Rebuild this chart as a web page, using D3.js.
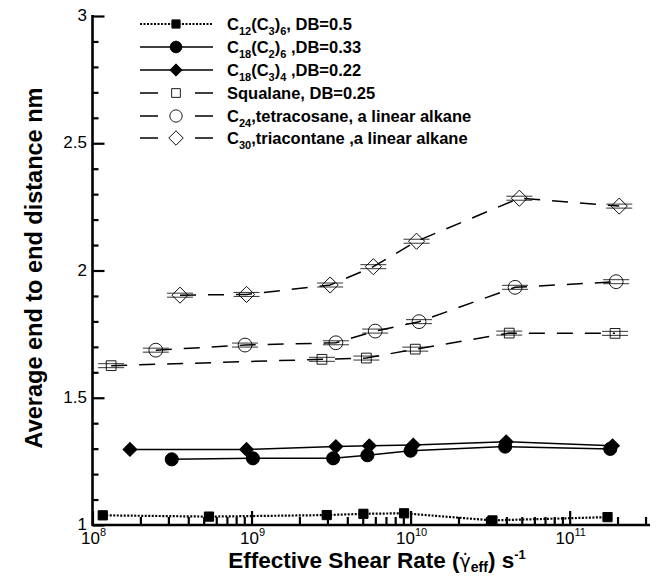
<!DOCTYPE html>
<html>
<head>
<meta charset="utf-8">
<script src="https://cdn.jsdelivr.net/npm/d3@7"></script>
<style>
  body { margin: 0; background: #fff; }
  svg { display: block; font-family: "Liberation Sans", Arial, sans-serif; }
</style>
</head>
<body>
<div id="chart"></div>
<script>
// data
var shearC12 = [1.16e8, 5.4e8, 2.97e9, 5.05e9, 9.1e9, 3.27e10, 1.73e11];
var distC12 = [1.038, 1.033, 1.039, 1.044, 1.046, 1.018, 1.031];

var shearC18a = [3.15e8, 1.02e9, 3.26e9, 5.35e9, 1.0e10, 3.93e10, 1.8e11];
var distC18a = [1.258, 1.262, 1.262, 1.274, 1.292, 1.308, 1.299];

var shearC18b = [1.72e8, 9.3e8, 3.39e9, 5.5e9, 1.04e10, 3.99e10, 1.86e11];
var distC18b = [1.297, 1.297, 1.308, 1.311, 1.314, 1.327, 1.311];

var shearSqual = [1.31e8, 2.77e9, 5.27e9, 1.07e10, 4.17e10, 1.93e11];
var distSqual = [1.626, 1.651, 1.656, 1.691, 1.754, 1.753];

var shearC24 = [2.5e8, 9.1e8, 3.39e9, 5.99e9, 1.13e10, 4.54e10, 1.96e11];
var distC24 = [1.687, 1.707, 1.716, 1.762, 1.799, 1.934, 1.956];

var shearC30 = [3.55e8, 9.3e8, 3.12e9, 5.83e9, 1.09e10, 4.83e10, 2.05e11];
var distC30 = [1.903, 1.906, 1.943, 2.015, 2.115, 2.284, 2.253];

var seriesNames = [
  "C_{12}(C_{3})_{6}, DB=0.5",
  "C_{18}(C_{2})_{6} ,DB=0.33",
  "C_{18}(C_{3})_{4} ,DB=0.22",
  "Squalane, DB=0.25",
  "C_{24},tetracosane, a linear alkane",
  "C_{30},triacontane ,a linear alkane"
];

var yTicks = [1, 1.5, 2, 2.5, 3];
var yTickLabels = ["1", "1.5", "2", "2.5", "3"];
var xMajor = [1e8, 1e9, 1e10, 1e11];
var xExponents = ["8", "9", "10", "11"];

var svgWidth = 663, svgHeight = 577;

var svg = d3.select("#chart").append("svg")
  .attr("width", svgWidth)
  .attr("height", svgHeight);

var xScale = d3.scaleLog().domain([1e8, 3.2e11]).range([92.5, 650]);
var yScale = d3.scaleLinear().domain([1, 3]).range([525, 16]);

// minor ticks
var xMinor = [];
xMajor.forEach(function(m) {
  for (var k = 2; k <= 9; k++) {
    if (m * k <= 3.2e11) xMinor.push(m * k);
  }
});
var yMinor = d3.range(1, 3.001, 0.1).filter(function(v) {
  return Math.abs(v * 2 - Math.round(v * 2)) > 0.01;
});

var gx = svg.append("g").attr("transform", "translate(0,525)");
gx.call(d3.axisBottom(xScale).tickValues(xMinor).tickSize(-8).tickFormat(""));
gx.append("g").call(d3.axisBottom(xScale).tickValues(xMajor).tickSize(-14).tickFormat(""));
gx.selectAll(".domain").remove();
gx.selectAll("line").attr("stroke", "#000").attr("stroke-width", 1.2);
gx.selectAll("g g.tick line").attr("stroke-width", 2.2);

var gy = svg.append("g").attr("transform", "translate(92.5,0)");
gy.call(d3.axisLeft(yScale).tickValues(yMinor).tickSize(-6).tickFormat(""));
gy.append("g").call(d3.axisLeft(yScale).tickValues(yTicks).tickSize(-12).tickFormat(""));
gy.selectAll(".domain").remove();
gy.selectAll("line").attr("stroke", "#000").attr("stroke-width", 1.2);
gy.selectAll("g g.tick line").attr("stroke-width", 2.2);

// axis lines
svg.append("line").attr("x1", 92.5).attr("x2", 650).attr("y1", 525).attr("y2", 525)
  .attr("stroke", "#000").attr("stroke-width", 2.6);
svg.append("line").attr("x1", 92.5).attr("x2", 92.5).attr("y1", 15).attr("y2", 526)
  .attr("stroke", "#000").attr("stroke-width", 2.6);

// tick labels
svg.selectAll(".ylab").data(yTicks).enter().append("text")
  .attr("x", 87)
  .attr("y", function(d) { return yScale(d) + 5; })
  .attr("text-anchor", "end")
  .style("font-size", "17px")
  .text(function(d, i) { return yTickLabels[i]; });

var xl = svg.selectAll(".xlab").data(xMajor).enter().append("text")
  .attr("x", function(d) { return xScale(d) + 1; })
  .attr("y", 544)
  .attr("text-anchor", "middle")
  .style("font-size", "17px");
xl.append("tspan").text("10");
xl.append("tspan").attr("dy", -8).style("font-size", "11px")
  .text(function(d, i) { return xExponents[i]; });

// axis titles
var xt = svg.append("text").attr("x", 377).attr("y", 568)
  .attr("text-anchor", "middle")
  .style("font-size", "22.5px").style("font-weight", "bold");
xt.append("tspan").text("Effective Shear Rate (");
xt.append("tspan").style("font-weight", "normal").style("font-family", "DejaVu Sans")
  .style("font-size", "19px").text("\u03B3\u0307");
xt.append("tspan").attr("dy", 4).style("font-size", "14px").text("eff");
xt.append("tspan").attr("dy", -4).text(")  s");
xt.append("tspan").attr("dy", -9).style("font-size", "13px").text("-1");

svg.append("text")
  .attr("transform", "translate(42,268) rotate(-90)")
  .attr("text-anchor", "middle")
  .style("font-size", "23.5px").style("font-weight", "bold")
  .text("Average end to end distance  nm");

// symbols
function symbolPath(type, size) {
  return d3.symbol().type(type).size(size)();
}
var styles = [
  { sx: shearC12, sy: distC12, dash: "2,1.5", width: 2.2, sym: d3.symbolSquare, size: 85, rot: 0, fill: "#000", err: false },
  { sx: shearC18a, sy: distC18a, dash: null, width: 1.5, sym: d3.symbolCircle, size: 135, rot: 0, fill: "#000", err: false },
  { sx: shearC18b, sy: distC18b, dash: null, width: 1.5, sym: d3.symbolSquare, size: 95, rot: 45, fill: "#000", err: false },
  { sx: shearSqual, sy: distSqual, dash: "16,12", width: 1.5, sym: d3.symbolSquare, size: 95, rot: 0, fill: "none", err: true },
  { sx: shearC24, sy: distC24, dash: "16,12", width: 1.5, sym: d3.symbolCircle, size: 150, rot: 0, fill: "none", err: true },
  { sx: shearC30, sy: distC30, dash: "16,12", width: 1.5, sym: d3.symbolSquare, size: 130, rot: 45, fill: "none", err: true }
];

var line = d3.line()
  .x(function(d) { return xScale(d[0]); })
  .y(function(d) { return yScale(d[1]); });

styles.forEach(function(s) {
  var pts = s.sx.map(function(v, i) { return [v, s.sy[i]]; });
  svg.append("path").datum(pts)
    .attr("d", line)
    .attr("fill", "none")
    .attr("stroke", "#000")
    .attr("stroke-width", s.width)
    .attr("stroke-dasharray", s.dash);

  var g = svg.append("g");
  if (s.err) {
    [-2, 2].forEach(function(off) {
      g.selectAll(null).data(pts).enter().append("line")
        .attr("x1", function(d) { return xScale(d[0]) - 13; })
        .attr("x2", function(d) { return xScale(d[0]) + 13; })
        .attr("y1", function(d) { return yScale(d[1]) + off; })
        .attr("y2", function(d) { return yScale(d[1]) + off; })
        .attr("stroke", "#000").attr("stroke-width", 0.8);
    });
  }
  g.selectAll(".pt").data(pts).enter().append("path")
    .attr("transform", function(d) {
      return "translate(" + xScale(d[0]) + "," + yScale(d[1]) + ") rotate(" + s.rot + ")";
    })
    .attr("d", symbolPath(s.sym, s.size))
    .attr("fill", s.fill)
    .attr("stroke", "#000")
    .attr("stroke-width", s.fill === "none" ? 0.9 : 1);
});

// legend
var legendY = [24, 47, 70, 93, 116, 138];
styles.forEach(function(s, i) {
  var y = legendY[i];
  svg.append("line").attr("x1", 140).attr("x2", 213).attr("y1", y).attr("y2", y)
    .attr("stroke", "#000").attr("stroke-width", s.width)
    .attr("stroke-dasharray", s.dash ? (s.dash === "16,12" ? "18,37" : s.dash) : null);
  svg.append("path").attr("transform", "translate(176," + y + ") rotate(" + s.rot + ")")
    .attr("d", symbolPath(s.sym, s.size * 0.8))
    .attr("fill", s.fill === "none" ? "#fff" : "#000")
    .attr("stroke", "#000").attr("stroke-width", 0.9);

  var t = svg.append("text").attr("x", 227).attr("y", y + 6)
    .style("font-size", "16.5px").style("font-weight", "bold");
  var parts = seriesNames[i].split(/(_\{[^}]*\})/);
  var down = false;
  parts.forEach(function(p) {
    if (!p) return;
    if (p.charAt(0) === "_") {
      t.append("tspan").attr("dy", down ? 0 : 5).style("font-size", "11px").text(p.slice(2, -1));
      down = true;
    } else {
      t.append("tspan").attr("dy", down ? -5 : 0).text(p);
      down = false;
    }
  });
});
</script>
</body>
</html>
